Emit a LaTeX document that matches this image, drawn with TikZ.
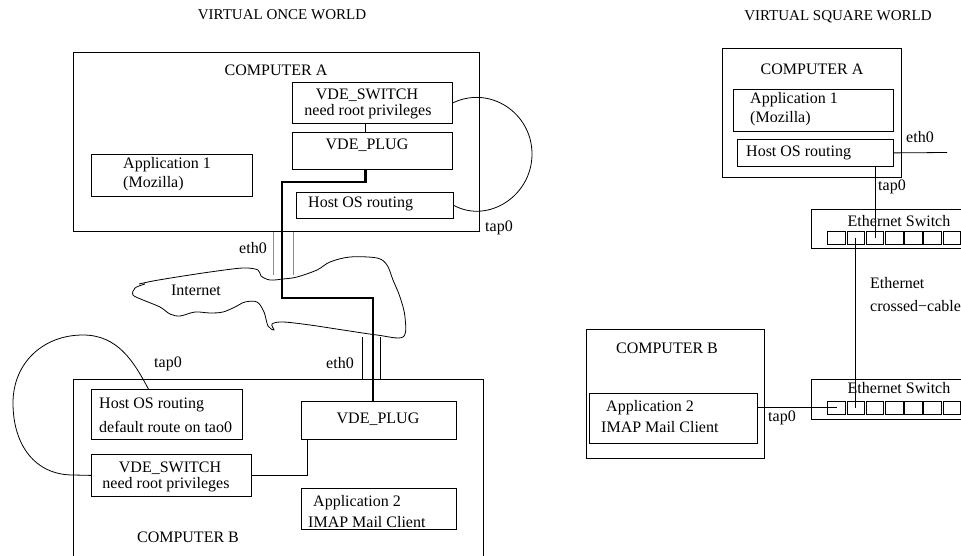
\documentclass[tikz,border=0pt]{standalone}
\usepackage{fontspec}
\setmainfont{Liberation Serif}
\begin{document}
\begin{tikzpicture}[x=1pt,y=-1pt,
  box/.style={draw, line width=0.8pt, inner sep=0pt, anchor=north west},
  txt/.style={inner sep=0pt, font=\fontsize{16}{19}\selectfont},
  ltxt/.style={txt, anchor=west},
  ttl/.style={inner sep=0pt, font=\fontsize{15}{18}\selectfont},
  thin/.style={line width=0.8pt},
  ethg/.style={line width=0.9pt, black!45},
  wire/.style={line width=2.6pt},
  port/.style={draw, line width=0.7pt, inner sep=0pt, anchor=north west,
               minimum width=17.7pt, minimum height=13pt}]
\useasboundingbox (0,0) rectangle (961,556);

% ---------------- titles ----------------
\node[ttl] (ttlonce) at (282,15) {VIRTUAL ONCE WORLD};
\node[ttl] (ttlsq) at (838,17) {VIRTUAL SQUARE WORLD};

% ================= VIRTUAL ONCE WORLD =================
% computer A
\node[box, minimum width=406pt, minimum height=179pt] (compA) at (73,52) {};
\node[txt] (compAlbl) at (276,70) {COMPUTER A};
\node[box, minimum width=160pt, minimum height=41pt] (swA) at (292,82) {};
\node[txt] (swAt1) at (367,95) {VDE\_SWITCH};
\node[txt] (swAt2) at (368,112) {need root privileges};
\node[box, minimum width=160pt, minimum height=37pt] (plugA) at (292,132) {};
\node[txt] (plugAt) at (367,145) {VDE\_PLUG};
\node[box, minimum width=161pt, minimum height=42pt] (appA) at (91,154) {};
\node[ltxt] (appAt1) at (123,165) {Application 1};
\node[ltxt] (appAt2) at (123,184) {(Mozilla)};
\node[box, minimum width=157pt, minimum height=26pt] (hostA) at (296,192) {};
\node[ltxt] (hostAt) at (308,204) {Host OS routing};
\node[txt] (tapA) at (499,228) {tap0};

\draw[thin] ([xshift=-7pt]swA.south) -- ([xshift=-7pt]plugA.north);
% tap0 loop from the switch to the host routing
\draw[thin] (swA.east) .. controls (490,85) and (532,113) .. (532,154)
            .. controls (532,196) and (488,224) .. (hostA.east);

% eth0 of computer A
\coordinate (ea1) at (273,275);
\coordinate (ea2) at (293,275);
\draw[ethg] (ea1) -- (ea1 |- compA.south);
\draw[ethg] (ea2) -- (ea2 |- compA.south);
\node[txt] (ethA) at (253,248) {eth0};

% the Internet cloud
\draw[thin] plot[smooth, tension=0.55] coordinates {
  (139,284) (153,281) (177,277) (210,272) (243,268) (258,270) (261,276)
  (270,280) (283,279) (297,277) (317,270) (330,262) (350,257) (377,258)
  (387,265) (393,280) (400,297) (405,317) (403,337) (377,335) (343,330)
  (310,325) (283,322) (272,324) (274,330) (268,326) (264,312) (257,302)
  (245,302) (235,307) (223,312) (210,313) (195,312) (180,316) (170,314)
  (160,307) (143,300) (133,295) (135,288) (145,284)};
\node[txt] (inet) at (196,290) {Internet};

% computer B
\node[box, minimum width=410pt, minimum height=200pt] (compB) at (73,379) {};
\node[box, minimum width=151pt, minimum height=50pt] (hostB) at (91,389) {};
\node[ltxt] (hostBt1) at (99,405) {Host OS routing};
\node[ltxt] (hostBt2) at (99,427) {default route on tao0};
\node[box, minimum width=155pt, minimum height=38pt] (plugB) at (301,401) {};
\node[txt] (plugBt) at (378,419) {VDE\_PLUG};
\node[box, minimum width=160pt, minimum height=42pt] (swB) at (91,454) {};
\node[txt] (swBt1) at (170,468) {VDE\_SWITCH};
\node[txt] (swBt2) at (166,485) {need root privileges};
\node[box, minimum width=155pt, minimum height=41pt] (appB) at (301,488) {};
\node[ltxt] (appBt1) at (313,503) {Application 2};
\node[ltxt] (appBt2) at (308,522) {IMAP Mail Client};
\node[txt] (compBlbl) at (188,537) {COMPUTER B};
\node[txt] (tapB) at (168,364) {tap0};

\draw[thin] (swB.east) -| ([xshift=-71.5pt]plugB.south);
% tap0 loop from the host routing to the switch
\draw[thin] ([xshift=-18.5pt]hostB.north) .. controls (134,362) and (118,335) .. (83,335)
            .. controls (43,335) and (13,363) .. (13,403)
            .. controls (13,445) and (35,475) .. (73,475) -- (swB.west);

% eth0 of computer B
\coordinate (eb1) at (362,337);
\coordinate (eb2) at (380,337);
\draw[thin] (eb1) -- (eb1 |- compB.north);
\draw[thin] (eb2) -- (eb2 |- compB.north);
\node[txt] (ethB) at (340,363) {eth0};

% the plug-to-plug cable across the Internet
\draw[wire] ([xshift=-7pt]plugA.south) |- (282,182) -- (282,298)
            -| ([xshift=-6pt]plugB.north);

% ================= VIRTUAL SQUARE WORLD =================
\node[box, minimum width=179pt, minimum height=129pt] (compAR) at (722,48) {};
\node[txt] (compARlbl) at (812,69) {COMPUTER A};
\node[box, minimum width=160pt, minimum height=42pt] (appAR) at (733,89) {};
\node[ltxt] (appARt1) at (750,100) {Application 1};
\node[ltxt] (appARt2) at (750,119) {(Mozilla)};
\node[box, minimum width=156pt, minimum height=27pt] (hostAR) at (737,139) {};
\node[ltxt] (hostARt) at (746,153) {Host OS routing};
\coordinate (ethend) at (947,152.5);
\draw[thin] (hostAR.east) -- (ethend);
\node[txt] (ethR) at (920,137) {eth0};
\node[txt] (tapR) at (892,187) {tap0};

% upper Ethernet switch
\node[box, minimum width=152pt, minimum height=39pt] (swU) at (811,209) {};
\node[txt] (swUt) at (899,221) {Ethernet Switch};
\foreach \i in {1,...,7}
  \node[port] (pu\i) at ({827.3+19.2*(\i-1)},231) {};

% lower Ethernet switch
\node[box, minimum width=152pt, minimum height=40pt] (swL) at (811,379) {};
\node[txt] (swLt) at (899,388) {Ethernet Switch};
\foreach \i in {1,...,7}
  \node[port] (pl\i) at ({827.3+19.2*(\i-1)},401) {};

\draw[thin] (pu3.center |- hostAR.south) -- (pu3.center);
\draw[thin] (pu2.center) -- (pl2.center);
\node[ltxt] (ethc1) at (870,283) {Ethernet};
\node[ltxt] (ethc2) at (870,306) {crossed−cable};

% computer B
\node[box, minimum width=178pt, minimum height=129pt] (compBR) at (586,329) {};
\node[txt] (compBRlbl) at (667,348) {COMPUTER B};
\node[box, minimum width=168pt, minimum height=50pt] (appBR) at (589,393) {};
\node[ltxt] (appBRt1) at (606,408) {Application 2};
\node[ltxt] (appBRt2) at (601,427) {IMAP Mail Client};
\draw[thin] (pl1.center -| appBR.east) -- (pl1.center);
\node[txt] (tapBR) at (782,418) {tap0};
\end{tikzpicture}
\end{document}
